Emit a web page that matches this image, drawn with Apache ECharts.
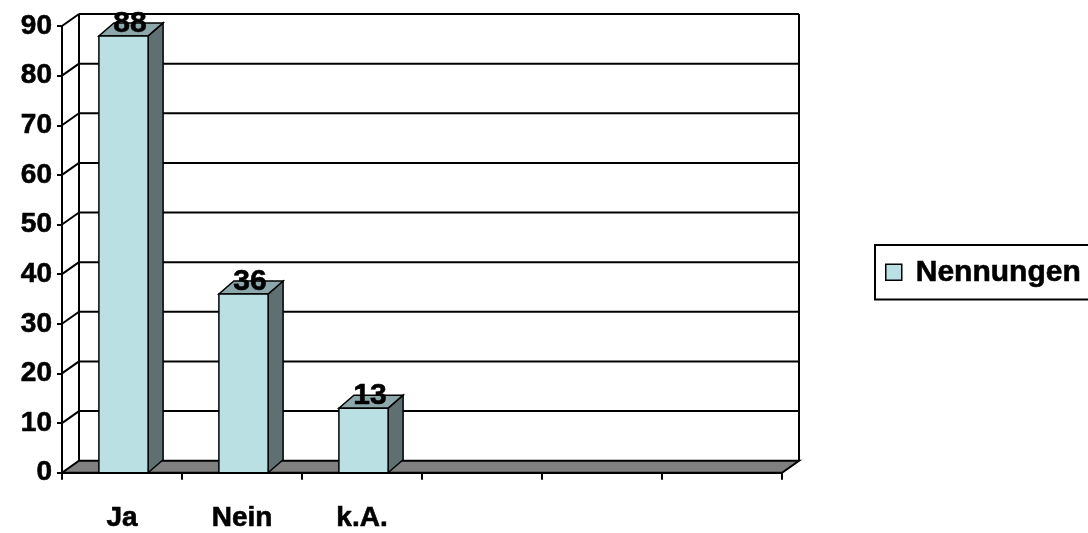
<!DOCTYPE html>
<html>
<head>
<meta charset="utf-8">
<script src="https://cdn.jsdelivr.net/npm/echarts@6/dist/echarts.min.js"></script>
<style>html,body{margin:0;padding:0;background:#fff;}#c{width:1088px;height:533px;}</style>
</head>
<body>
<div id="c"></div>
<script>
var categories = ['Ja', 'Nein', 'k.A.', '', '', ''];
var values = [88, 36, 13];
var seriesName = 'Nennungen';
var yTicks = [0, 10, 20, 30, 40, 50, 60, 70, 80, 90];

var FONT = 'Liberation Sans';
var WD = 17, WE = 12;   // wall depth offset
var BD = 15, BE = 13;   // bar depth offset

var chart = echarts.init(document.getElementById('c'));

var barData = values.map(function (v, i) { return [i, v]; });
var wallData = yTicks.map(function (v) { return [0, v]; });

var heavy = { textBorderColor: '#000', textBorderWidth: 0.6 };

chart.setOption({
  animation: false,
  backgroundColor: '#ffffff',
  grid: { left: 62, right: 306, top: 26, bottom: 57, containLabel: false },
  legend: {
    data: [seriesName],
    left: 875, top: 245,
    orient: 'vertical',
    padding: [12, 30, 12, 10],
    borderColor: '#000', borderWidth: 2,
    icon: 'rect', itemWidth: 16, itemHeight: 16,
    itemStyle: { borderColor: '#000', borderWidth: 1.5 },
    textStyle: Object.assign({ fontFamily: FONT, fontWeight: 'bold', fontSize: 30, color: '#000', padding: [0, 0, 0, 9] }, heavy)
  },
  xAxis: {
    type: 'category',
    data: categories,
    boundaryGap: true,
    axisLine: { show: true, lineStyle: { color: '#000', width: 2 } },
    axisTick: { show: true, length: 7, interval: 0, lineStyle: { color: '#000', width: 2 } },
    axisLabel: Object.assign({ interval: 0, margin: 32, fontFamily: FONT, fontWeight: 'bold', fontSize: 28, color: '#000' }, heavy),
    splitLine: { show: false }
  },
  yAxis: {
    type: 'value',
    min: 0, max: 90, interval: 10,
    axisLine: { show: true, lineStyle: { color: '#000', width: 2 } },
    axisTick: { show: true, length: 5, lineStyle: { color: '#000', width: 2 } },
    axisLabel: Object.assign({ margin: 10, fontFamily: FONT, fontWeight: 'bold', fontSize: 28, color: '#000' }, heavy),
    splitLine: { show: false }
  },
  series: [
    {
      type: 'custom',
      name: 'walls',
      silent: true,
      clip: false,
      z: 1,
      data: wallData,
      encode: { x: 0, y: 1 },
      renderItem: function (params, api) {
        var cs = params.coordSys;
        var x0 = cs.x, x1 = cs.x + cs.width;
        var v = api.value(1);
        var y = api.coord([0, v])[1];
        var ls = { stroke: '#000', lineWidth: 2 };
        var ch = [];
        if (v === 0) {
          var yTop = api.coord([0, yTicks[yTicks.length - 1]])[1];
          ch.push({ type: 'line', shape: { x1: x0 + WD, y1: yTop - WE, x2: x0 + WD, y2: y - WE }, style: ls });
          ch.push({ type: 'line', shape: { x1: x1 + WD, y1: yTop - WE, x2: x1 + WD, y2: y - WE }, style: ls });
          ch.push({ type: 'polygon', shape: { points: [[x0, y], [x1, y], [x1 + WD, y - WE], [x0 + WD, y - WE]] },
            style: { fill: '#808080', stroke: '#000', lineWidth: 2, lineJoin: 'miter' } });
        } else {
          ch.push({ type: 'line', shape: { x1: x0 + WD, y1: y - WE, x2: x1 + WD, y2: y - WE }, style: ls });
          ch.push({ type: 'line', shape: { x1: x0, y1: y, x2: x0 + WD, y2: y - WE }, style: ls });
        }
        return { type: 'group', children: ch };
      }
    },
    {
      type: 'custom',
      name: seriesName,
      clip: false,
      z: 3,
      itemStyle: { color: '#BBE0E3' },
      data: barData,
      encode: { x: 0, y: 1 },
      renderItem: function (params, api) {
        var idx = api.value(0), v = api.value(1);
        var c = api.coord([idx, v]);
        var b = api.coord([idx, 0]);
        var bw = api.size([1, 0])[0];
        var w = bw * 0.41;
        var cx = c[0] + 1.5;
        var xl = cx - w / 2, xr = cx + w / 2;
        var yt = c[1], yb = b[1];
        var st = { stroke: '#000', lineWidth: 1.5, lineJoin: 'miter' };
        return {
          type: 'group',
          children: [
            { type: 'polygon', shape: { points: [[xr, yb], [xr, yt], [xr + BD, yt - BE], [xr + BD, yb - BE]] },
              style: Object.assign({ fill: '#5E7072' }, st) },
            { type: 'polygon', shape: { points: [[xl, yt], [xr, yt], [xr + BD, yt - BE], [xl + BD, yt - BE]] },
              style: Object.assign({ fill: '#8DA8AA' }, st) },
            { type: 'rect', shape: { x: xl, y: yt, width: xr - xl, height: yb - yt },
              style: Object.assign({ fill: '#BBE0E3' }, st) },
            { type: 'text', z2: 10, style: { text: String(v), x: cx + BD / 2 - 1, y: yt + 3,
              align: 'center', verticalAlign: 'bottom', fill: '#000', stroke: '#000', lineWidth: 0.6,
              font: 'bold 30px "' + FONT + '"' } }
          ]
        };
      }
    }
  ]
});
</script>
</body>
</html>
